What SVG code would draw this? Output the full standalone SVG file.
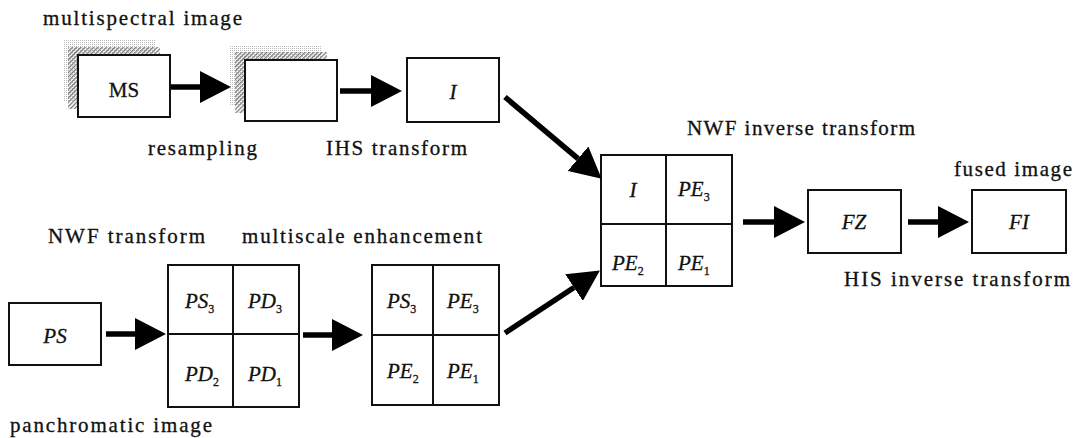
<svg xmlns="http://www.w3.org/2000/svg" width="1080" height="438" viewBox="0 0 1080 438">
<style>
.lbl{font-family:'Liberation Serif','Times New Roman',serif;font-size:21px;fill:#111;stroke:#111;stroke-width:0.3}
.it{font-family:'Liberation Serif','Times New Roman',serif;font-size:21px;font-style:italic;fill:#111;stroke:#111;stroke-width:0.3}
.sub{font-size:12px;font-style:normal}
.box{fill:#fff;stroke:#111;stroke-width:2}
.cell{fill:none;stroke:#111;stroke-width:2}
.arr{stroke:#000;stroke-width:5.5;fill:none;marker-end:url(#ah)}
</style>
<defs>
<pattern id="hatch" width="3" height="3" patternUnits="userSpaceOnUse" patternTransform="rotate(45)"><rect width="1.3" height="3" fill="#777"/></pattern>
<pattern id="dots" width="2" height="2" patternUnits="userSpaceOnUse"><rect width="1" height="1" fill="#bbb"/></pattern>
<marker id="ah" markerUnits="userSpaceOnUse" markerWidth="31" markerHeight="32" refX="0" refY="16" orient="auto" viewBox="0 0 31 32"><path d="M0,0 L31,16 L0,32 z" fill="#000"/></marker>
</defs>
<rect width="1080" height="438" fill="#fff"/>

<g id="labels">
<text class="lbl" x="43" y="25" textLength="199" lengthAdjust="spacing">multispectral image</text>
<text class="lbl" x="148" y="155" textLength="109" lengthAdjust="spacing">resampling</text>
<text class="lbl" x="326" y="155" textLength="141" lengthAdjust="spacing">IHS transform</text>
<text class="lbl" x="687" y="135" textLength="228" lengthAdjust="spacing">NWF inverse transform</text>
<text class="lbl" x="954" y="176" textLength="118" lengthAdjust="spacing">fused image</text>
<text class="lbl" x="844" y="286" textLength="226" lengthAdjust="spacing">HIS inverse transform</text>
<text class="lbl" x="48" y="243" textLength="157" lengthAdjust="spacing">NWF transform</text>
<text class="lbl" x="242" y="243" textLength="240" lengthAdjust="spacing">multiscale enhancement</text>
<text class="lbl" x="10" y="432" textLength="202" lengthAdjust="spacing">panchromatic image</text>
</g>

<g id="ms">
<rect x="63" y="40" width="92" height="62" fill="url(#dots)"/>
<rect x="68" y="47" width="92" height="62" fill="url(#hatch)"/>
<rect class="box" x="78" y="55" width="92" height="62"/>
<text class="lbl" x="124" y="97" text-anchor="middle">MS</text>
</g>
<g id="resampled">
<rect x="230" y="45" width="92" height="61" fill="url(#dots)"/>
<rect x="235" y="52" width="92" height="61" fill="url(#hatch)"/>
<rect class="box" x="245" y="60" width="92" height="61"/>
</g>
<g id="i">
<rect class="box" x="407" y="58" width="92" height="64"/>
<text class="it" x="453" y="99" text-anchor="middle">I</text>
</g>
<g id="ps">
<rect class="box" x="9" y="303" width="92" height="62"/>
<text class="it" x="55" y="343" text-anchor="middle">PS</text>
</g>
<g id="grid1">
<rect class="box" x="168" y="265" width="131" height="142"/>
<line class="cell" x1="168" y1="334" x2="299" y2="334"/>
<line class="cell" x1="233" y1="265" x2="233" y2="407"/>
<text class="it" x="185" y="308">PS<tspan class="sub" dy="5">3</tspan></text>
<text class="it" x="248" y="308">PD<tspan class="sub" dy="5">3</tspan></text>
<text class="it" x="185" y="381">PD<tspan class="sub" dy="5">2</tspan></text>
<text class="it" x="248" y="381">PD<tspan class="sub" dy="5">1</tspan></text>
</g>
<g id="grid2">
<rect class="box" x="372" y="265" width="127" height="140"/>
<line class="cell" x1="372" y1="335" x2="499" y2="335"/>
<line class="cell" x1="433" y1="265" x2="433" y2="405"/>
<text class="it" x="387" y="308">PS<tspan class="sub" dy="5">3</tspan></text>
<text class="it" x="447" y="308">PE<tspan class="sub" dy="5">3</tspan></text>
<text class="it" x="387" y="378">PE<tspan class="sub" dy="5">2</tspan></text>
<text class="it" x="447" y="378">PE<tspan class="sub" dy="5">1</tspan></text>
</g>
<g id="grid3">
<rect class="box" x="601" y="155" width="131" height="131"/>
<line class="cell" x1="601" y1="224" x2="732" y2="224"/>
<line class="cell" x1="666" y1="155" x2="666" y2="286"/>
<text class="it" x="633" y="197" text-anchor="middle">I</text>
<text class="it" x="678" y="196">PE<tspan class="sub" dy="5">3</tspan></text>
<text class="it" x="612" y="270">PE<tspan class="sub" dy="5">2</tspan></text>
<text class="it" x="678" y="270">PE<tspan class="sub" dy="5">1</tspan></text>
</g>
<g id="fz">
<rect class="box" x="808" y="190" width="93" height="63"/>
<text class="it" x="854" y="229" text-anchor="middle">FZ</text>
</g>
<g id="fi">
<rect class="box" x="972" y="190" width="94" height="63"/>
<text class="it" x="1019" y="229" text-anchor="middle">FI</text>
</g>

<g id="connectors">
<line class="arr" x1="171" y1="87" x2="200" y2="87"/>
<line class="arr" x1="340" y1="91" x2="371" y2="91"/>
<line class="arr" x1="505" y1="97" x2="578" y2="158.7"/>
<line class="arr" x1="106" y1="334" x2="135" y2="334"/>
<line class="arr" x1="303" y1="335" x2="332" y2="335"/>
<line class="arr" x1="505" y1="333" x2="574" y2="287.5"/>
<line class="arr" x1="743" y1="222" x2="774" y2="222"/>
<line class="arr" x1="908" y1="222" x2="938" y2="222"/>
</g>
</svg>
